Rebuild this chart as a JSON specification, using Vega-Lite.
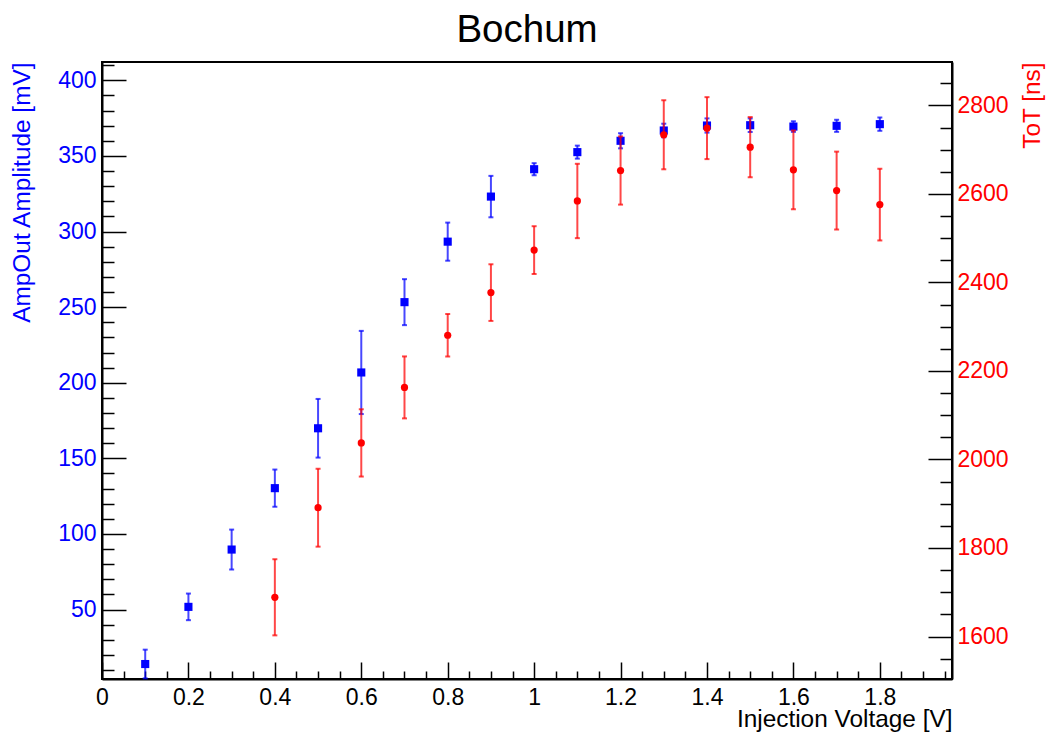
{
  "$schema": "https://vega.github.io/schema/vega-lite/v6.json",
  "width": 850,
  "height": 617,
  "autosize": {"type": "none"},
  "padding": {"left": 102, "top": 62, "right": 97, "bottom": 54},
  "background": "white",
  "config": {"view": {"stroke": "black", "strokeWidth": 2}, "font": "Liberation Sans"},
  "title": {"text": "Bochum", "fontSize": 38.5, "font": "Liberation Sans", "fontWeight": "normal", "color": "black", "anchor": "middle", "frame": "group", "baseline": "alphabetic", "offset": 19, "dy": 45},
  "datasets": {
    "amp": [
      {"v": 0.1, "amp": 14.0, "ae": 9.5},
      {"v": 0.2, "amp": 51.8, "ae": 8.8},
      {"v": 0.3, "amp": 89.7, "ae": 13.2},
      {"v": 0.4, "amp": 130.3, "ae": 12.3},
      {"v": 0.5, "amp": 169.9, "ae": 19.4},
      {"v": 0.6, "amp": 206.8, "ae": 27.5},
      {"v": 0.7, "amp": 253.3, "ae": 15.2},
      {"v": 0.8, "amp": 293.3, "ae": 12.6},
      {"v": 0.9, "amp": 323.1, "ae": 13.7},
      {"v": 1.0, "amp": 341.2, "ae": 4.0},
      {"v": 1.1, "amp": 352.5, "ae": 4.3},
      {"v": 1.2, "amp": 360.0, "ae": 5.0},
      {"v": 1.3, "amp": 366.8, "ae": 4.5},
      {"v": 1.4, "amp": 370.1, "ae": 4.7},
      {"v": 1.5, "amp": 370.3, "ae": 4.5},
      {"v": 1.6, "amp": 369.4, "ae": 3.5},
      {"v": 1.7, "amp": 369.9, "ae": 4.0},
      {"v": 1.8, "amp": 371.0, "ae": 4.4}
    ],
    "tot": [
      {"v": 0.4, "tot": 1688.6, "te": 86},
      {"v": 0.5, "tot": 1891.0, "te": 88},
      {"v": 0.6, "tot": 2037.4, "te": 76},
      {"v": 0.7, "tot": 2162.8, "te": 70},
      {"v": 0.8, "tot": 2280.6, "te": 48},
      {"v": 0.9, "tot": 2377.0, "te": 64},
      {"v": 1.0, "tot": 2473.0, "te": 54},
      {"v": 1.1, "tot": 2584.0, "te": 84},
      {"v": 1.2, "tot": 2652.8, "te": 77},
      {"v": 1.3, "tot": 2733.6, "te": 78},
      {"v": 1.4, "tot": 2748.6, "te": 70},
      {"v": 1.5, "tot": 2705.6, "te": 68},
      {"v": 1.6, "tot": 2654.3, "te": 89},
      {"v": 1.7, "tot": 2607.5, "te": 88},
      {"v": 1.8, "tot": 2575.8, "te": 81}
    ]
  },
  "encoding": {
    "x": {
      "field": "v",
      "type": "quantitative",
      "scale": {"domain": [0, 1.967], "nice": false, "zero": false},
      "axis": {
        "orient": "bottom",
        "title": "Injection Voltage [V]",
        "values": [0, 0.05, 0.1, 0.15, 0.2, 0.25, 0.3, 0.35, 0.4, 0.45, 0.5, 0.55, 0.6, 0.65, 0.7, 0.75, 0.8, 0.85, 0.9, 0.95, 1, 1.05, 1.1, 1.15, 1.2, 1.25, 1.3, 1.35, 1.4, 1.45, 1.5, 1.55, 1.6, 1.65, 1.7, 1.75, 1.8, 1.85, 1.9, 1.95],
        "tickSize": {"condition": {"test": "abs(datum.value/0.2 - round(datum.value/0.2)) < 1e-6", "value": -17}, "value": -8},
        "labelExpr": "abs(datum.value/0.2 - round(datum.value/0.2)) < 1e-6 ? format(datum.value, '~g') : ''",
        "labelFontSize": 23,
        "labelFont": "Liberation Sans",
        "labelColor": "black",
        "labelPadding": 24,
        "labelOverlap": false,
        "labelBound": false,
        "labelFlush": false,
        "tickColor": "black",
        "tickWidth": 1.5,
        "domainColor": "black",
        "domainWidth": 2,
        "grid": false,
        "titleFontSize": 24.4,
        "titleFont": "Liberation Sans",
        "titleFontWeight": "normal",
        "titleColor": "black",
        "titleAnchor": "end",
        "titleAlign": "right",
        "titlePadding": -11
      }
    }
  },
  "layer": [
    {
      "data": {"name": "amp"},
      "encoding": {
        "y": {
          "field": "amp",
          "type": "quantitative",
          "scale": {"domain": [4.1, 412.1], "nice": false, "zero": false},
          "axis": {
            "orient": "left",
            "title": "AmpOut Amplitude [mV]",
            "values": [10, 20, 30, 40, 50, 60, 70, 80, 90, 100, 110, 120, 130, 140, 150, 160, 170, 180, 190, 200, 210, 220, 230, 240, 250, 260, 270, 280, 290, 300, 310, 320, 330, 340, 350, 360, 370, 380, 390, 400, 410],
            "tickSize": {"condition": {"test": "datum.value % 50 === 0", "value": -24}, "value": -12},
            "labelExpr": "datum.value % 50 === 0 ? format(datum.value, 'd') : ''",
            "labelFontSize": 23,
            "labelFont": "Liberation Sans",
            "labelColor": "#0000ff",
            "labelPadding": 30,
            "labelOverlap": false,
            "labelBound": false,
            "labelFlush": false,
            "tickColor": "black",
            "tickWidth": 1.5,
            "domainColor": "black",
            "domainWidth": 2,
            "grid": false,
            "titleFontSize": 24.4,
            "titleFont": "Liberation Sans",
            "titleFontWeight": "normal",
            "titleColor": "#0000ff",
            "titleAnchor": "end",
            "titleAlign": "right",
            "titleAngle": -90,
            "titleBaseline": "bottom",
            "titlePadding": 23
          }
        }
      },
      "layer": [
        {
          "mark": {"type": "errorbar", "color": "#0000ff", "opacity": 0.72, "thickness": 2, "size": 5, "ticks": true},
          "encoding": {"yError": {"field": "ae"}}
        },
        {
          "mark": {"type": "point", "shape": "square", "filled": true, "size": 66, "color": "#0000ff", "opacity": 1, "strokeWidth": 0}
        }
      ]
    },
    {
      "data": {"name": "tot"},
      "encoding": {
        "y": {
          "field": "tot",
          "type": "quantitative",
          "scale": {"domain": [1504, 2898], "nice": false, "zero": false},
          "axis": {
            "orient": "right",
            "title": "ToT [ns]",
            "values": [1550, 1600, 1650, 1700, 1750, 1800, 1850, 1900, 1950, 2000, 2050, 2100, 2150, 2200, 2250, 2300, 2350, 2400, 2450, 2500, 2550, 2600, 2650, 2700, 2750, 2800, 2850],
            "tickSize": {"condition": {"test": "datum.value % 200 === 0", "value": -24}, "value": -12},
            "labelExpr": "datum.value % 200 === 0 ? format(datum.value, 'd') : ''",
            "labelFontSize": 23,
            "labelFont": "Liberation Sans",
            "labelColor": "#ff0000",
            "labelPadding": 29,
            "labelOverlap": false,
            "labelBound": false,
            "labelFlush": false,
            "tickColor": "black",
            "tickWidth": 1.5,
            "domainColor": "black",
            "domainWidth": 2,
            "grid": false,
            "titleFontSize": 24.4,
            "titleFont": "Liberation Sans",
            "titleFontWeight": "normal",
            "titleColor": "#ff0000",
            "titleAnchor": "end",
            "titleAlign": "right",
            "titleAngle": -90,
            "titleBaseline": "top",
            "titlePadding": 12
          }
        }
      },
      "layer": [
        {
          "mark": {"type": "errorbar", "color": "#ff0000", "opacity": 0.72, "thickness": 2, "size": 5, "ticks": true},
          "encoding": {"yError": {"field": "te"}}
        },
        {
          "mark": {"type": "point", "shape": "circle", "filled": true, "size": 52, "color": "#ff0000", "opacity": 1, "strokeWidth": 0}
        }
      ]
    }
  ],
  "resolve": {"scale": {"y": "independent"}}
}
